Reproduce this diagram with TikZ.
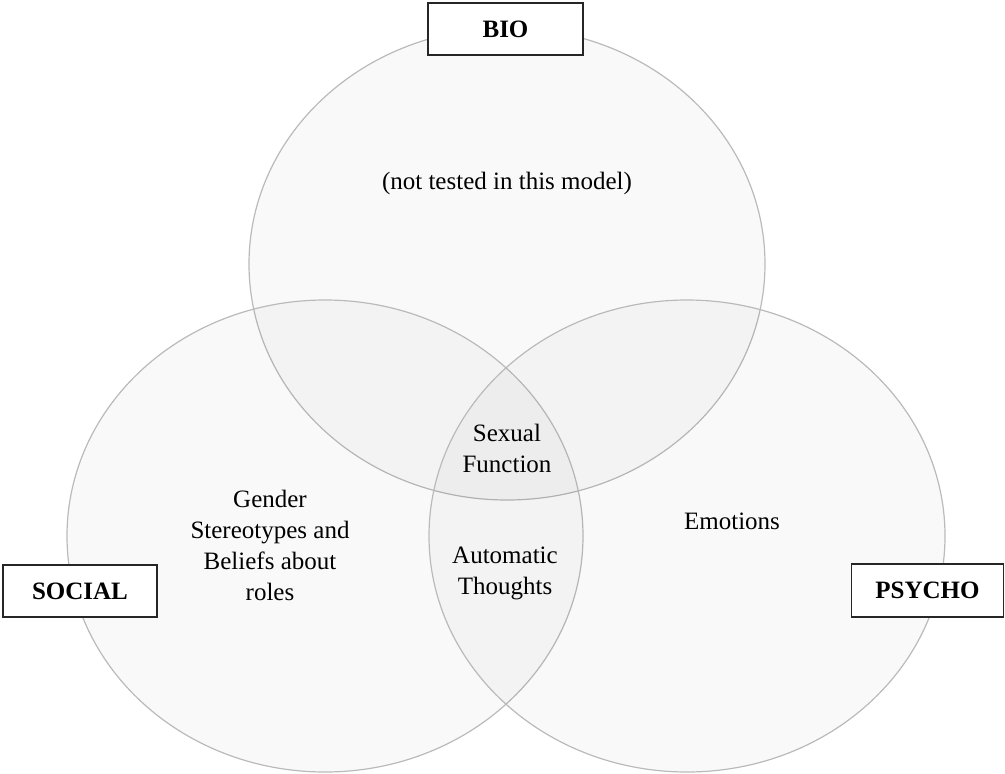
\documentclass[tikz,border=0pt]{standalone}
\usepackage{fontspec}
\setmainfont{Liberation Serif}
\begin{document}
\begin{tikzpicture}[x=1pt,y=-1pt,
  ring/.style={draw=black!27, line width=1.2pt, fill=black, fill opacity=0.024},
  label/.style={draw=black!85, line width=1.2pt, fill=white, inner sep=0pt,
    font=\fontsize{25}{31}\selectfont\bfseries},
  body/.style={align=center, inner sep=0pt, font=\fontsize{25}{31}\selectfont}]
  \useasboundingbox (0,0) rectangle (1005,774);
  % the three overlapping domains
  \draw[ring] (507,264) ellipse [x radius=258, y radius=236];
  \draw[ring] (325,536) ellipse [x radius=258, y radius=236];
  \draw[ring] (687,536) ellipse [x radius=258, y radius=236];
  % contents of each region
  \node[body] (ntl) at (507,183) {(not tested in this model)};
  \node[body] (sexual) at (507,448) {Sexual\\Function};
  \node[body] (auto) at (505,573) {Automatic\\Thoughts};
  \node[body] (gender) at (270,545) {Gender\\Stereotypes and\\Beliefs about\\roles};
  \node[body] (emotions) at (732,521) {Emotions};
  % domain labels
  \node[label, minimum width=155, minimum height=52] (bio) at (505.5,29) {BIO};
  \node[label, minimum width=154, minimum height=52] (social) at (80,591) {SOCIAL};
  \node[label, minimum width=152, minimum height=53] (psycho) at (927.5,590.5) {PSYCHO};
\end{tikzpicture}
\end{document}
